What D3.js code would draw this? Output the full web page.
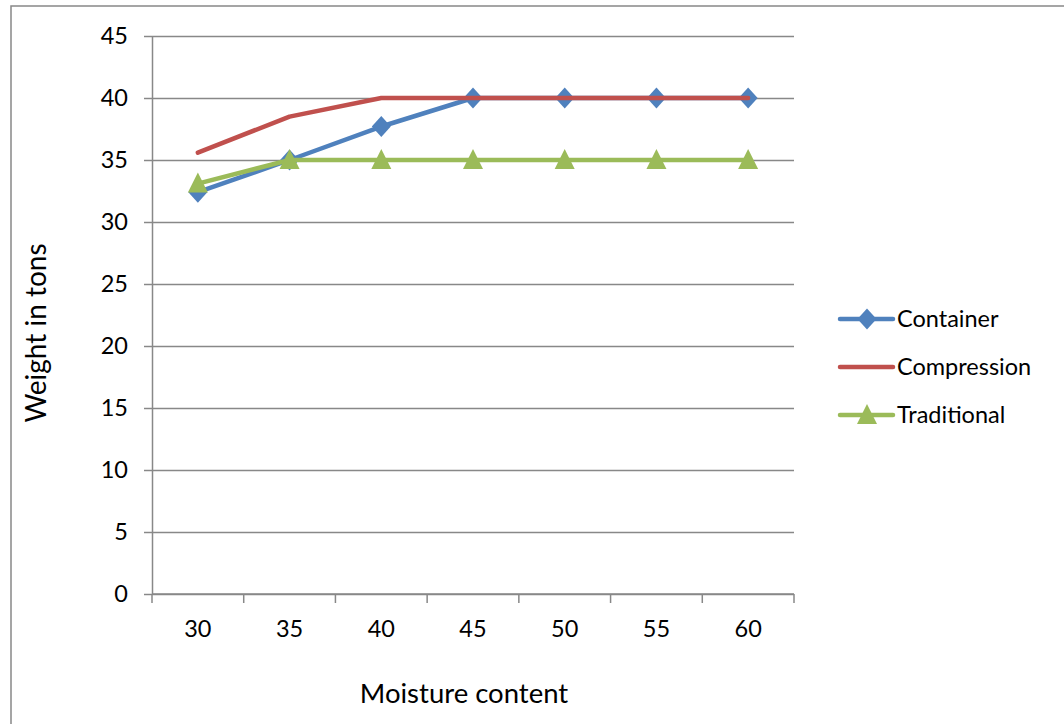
<!DOCTYPE html>
<html>
<head>
<meta charset="utf-8">
<script src="https://cdn.jsdelivr.net/npm/d3@7"></script>
<style>
  html, body { margin: 0; padding: 0; background: #fff; }
  svg { display: block; }
  text { font-family: Lato, "Open Sans", sans-serif; fill: #000; }
</style>
</head>
<body>
<svg id="chart" width="1064" height="724"></svg>
<script>
// Moisture content categories and weight (tons) per method
const categories = [30, 35, 40, 45, 50, 55, 60];
const container = [32.4, 35, 37.7, 40, 40, 40, 40];
const compression = [35.6, 38.5, 40, 40, 40, 40, 40];
const traditional = [33.1, 35, 35, 35, 35, 35, 35];
const yTicks = [0, 5, 10, 15, 20, 25, 30, 35, 40, 45];

const seriesList = [
  { name: "Container", values: container, color: "#4F81BD", marker: "diamond" },
  { name: "Compression", values: compression, color: "#C0504D", marker: null },
  { name: "Traditional", values: traditional, color: "#9BBB59", marker: "triangle" }
];

const svg = d3.select("#chart");
const W = 1064, H = 724;
const plot = { left: 152, right: 794, top: 36, bottom: 594 };
const grid = "#888888";

// outer chart frame
svg.append("rect")
  .attr("x", 11).attr("y", 6)
  .attr("width", W + 20).attr("height", H + 20)
  .attr("fill", "none").attr("stroke", grid).attr("stroke-width", 1.5);

const x = d3.scaleBand().domain(categories).range([plot.left, plot.right]).padding(0);
const y = d3.scaleLinear().domain([0, 45]).range([plot.bottom, plot.top]);
const cx = d => x(d) + x.bandwidth() / 2;

// horizontal gridlines with left tick marks
const yAxis = d3.axisLeft(y).tickValues(yTicks).tickSize(8).tickPadding(16).tickSizeOuter(0);
const gy = svg.append("g").attr("transform", `translate(${plot.left},0)`).call(yAxis);
gy.select(".domain").attr("stroke", grid).attr("stroke-width", 1.5);
gy.selectAll(".tick line").attr("stroke", grid).attr("stroke-width", 1.5);
gy.selectAll(".tick").append("line")
  .attr("x1", 0).attr("x2", plot.right - plot.left)
  .attr("stroke", grid).attr("stroke-width", 1.5);
gy.selectAll(".tick text").style("font-size", "23.5px").style("font-family", "Lato, sans-serif").attr("fill", "#000");

// category axis with boundary ticks
const gx = svg.append("g").attr("transform", `translate(0,${plot.bottom})`);
gx.append("line").attr("x1", plot.left).attr("x2", plot.right)
  .attr("stroke", grid).attr("stroke-width", 1.5);
const bounds = categories.map(c => x(c)).concat([plot.right]);
gx.selectAll("line.tk").data(bounds).enter().append("line")
  .attr("class", "tk")
  .attr("x1", d => d).attr("x2", d => d).attr("y1", 0).attr("y2", 9)
  .attr("stroke", grid).attr("stroke-width", 1.5);
gx.selectAll("text").data(categories).enter().append("text")
  .attr("x", d => cx(d)).attr("y", 43)
  .attr("text-anchor", "middle")
  .style("font-size", "23.5px")
  .text(d => d);

// axis titles
svg.append("text")
  .attr("transform", `translate(46,${(plot.top + plot.bottom) / 2 + 18}) rotate(-90)`)
  .attr("text-anchor", "middle")
  .style("font-size", "28px")
  .text("Weight in tons");
svg.append("text")
  .attr("x", (plot.left + plot.right) / 2 - 9).attr("y", 703)
  .attr("text-anchor", "middle")
  .style("font-size", "27.5px")
  .text("Moisture content");

const line = d3.line().x((d, i) => cx(categories[i])).y(d => y(d));
const diamond = "M0,-10.5L9.5,0L0,10.5L-9.5,0Z";
const triangle = "M0,-11L10,9L-10,9Z";

function drawMarker(g, kind, color) {
  if (kind === "diamond") g.append("path").attr("d", diamond).attr("fill", color);
  if (kind === "triangle") g.append("path").attr("d", triangle).attr("fill", color);
}

// series lines and markers, drawn in order so later series sit on top
seriesList.forEach(s => {
  svg.append("path").datum(s.values)
    .attr("d", line)
    .attr("fill", "none").attr("stroke", s.color)
    .attr("stroke-width", 4.5).attr("stroke-linecap", "round").attr("stroke-linejoin", "round");
  if (s.marker) {
    s.values.forEach((v, i) => {
      const g = svg.append("g").attr("transform", `translate(${cx(categories[i])},${y(v)})`);
      drawMarker(g, s.marker, s.color);
    });
  }
});

// legend
const legend = svg.append("g").attr("transform", "translate(840,319)");
seriesList.forEach((s, i) => {
  const g = legend.append("g").attr("transform", `translate(0,${i * 48})`);
  g.append("line").attr("x1", 0).attr("x2", 53)
    .attr("stroke", s.color).attr("stroke-width", 4.5).attr("stroke-linecap", "round");
  const m = g.append("g").attr("transform", "translate(27,0)");
  drawMarker(m, s.marker, s.color);
  g.append("text").attr("x", 57).attr("y", 8).style("font-size", "23.5px").text(s.name);
});
</script>
</body>
</html>
